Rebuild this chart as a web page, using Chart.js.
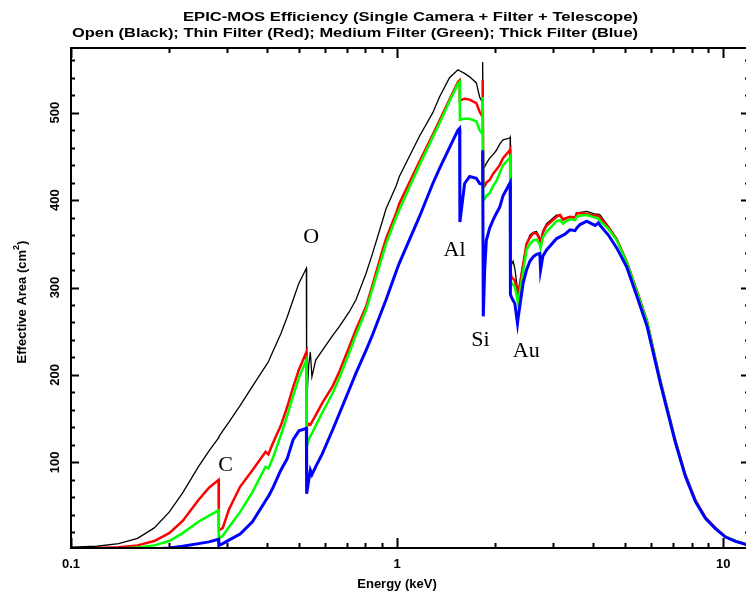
<!DOCTYPE html>
<html lang="en">
<head>
<meta charset="UTF-8">
<title>EPIC-MOS Efficiency</title>
<script src="https://cdn.jsdelivr.net/npm/chart.js"></script>
<style>
    * { margin: 0; padding: 0; box-sizing: border-box; }
    body { background: #fff; width: 746px; height: 597px; overflow: hidden; }
    #wrap { width: 752px; height: 597px; }
</style>
</head>
<body>
<div id="wrap"><canvas id="effArea" width="752" height="597"></canvas></div>
<script>
// photon energy grid (keV), shared by all four curves
const energy = [
    0.100, 0.120, 0.140, 0.160, 0.180, 0.200, 0.220, 0.246, 0.265, 0.2835,
    0.2840, 0.292, 0.305, 0.330, 0.360, 0.395, 0.403, 0.415, 0.440, 0.460,
    0.480, 0.500, 0.527, 0.528, 0.536, 0.542, 0.548, 0.563, 0.590, 0.634,
    0.664, 0.713, 0.748, 0.803, 0.841, 0.903, 0.925, 0.993, 1.016, 1.171,
    1.287, 1.349, 1.448, 1.537, 1.555, 1.558, 1.611, 1.669, 1.750, 1.791,
    1.825, 1.830, 1.838, 1.856, 1.878, 1.923, 1.969, 2.017, 2.064, 2.113,
    2.215, 2.222, 2.226, 2.243, 2.269, 2.296, 2.340, 2.350, 2.435, 2.494,
    2.554, 2.614, 2.677, 2.740, 2.754, 2.800, 2.874, 3.085, 3.158, 3.230,
    3.272, 3.390, 3.513, 3.554, 3.639, 3.815, 4.046, 4.140, 4.194, 4.446,
    4.719, 5.066, 5.438, 5.838, 6.414, 6.645, 7.133, 7.656, 8.220, 8.822,
    9.470, 10.16, 10.91, 12.00
];

// effective area (cm2) per filter
const openArea = [
    3, 4, 7, 13, 25, 43, 65, 95, 113, 128,
    129, 136, 146, 165, 187, 210, 215, 226, 247, 266,
    286, 305, 322, 168, 212, 226, 198, 217, 228, 245,
    255, 272, 286, 316, 339, 377, 390, 416, 427, 473,
    500, 518, 540, 549, 548, 548, 545, 541, 534, 518,
    512, 558, 436, 438, 442, 448, 452, 457, 464, 469,
    471, 472, 324, 326, 330, 322, 298, 294, 328, 350,
    360, 363, 364, 357, 352, 365, 373, 383, 382, 377,
    378, 381, 379, 385, 386, 387, 384, 384, 383, 370,
    356, 330, 297, 263, 194, 171, 125, 86, 57, 37,
    25, 15, 10, 5
];
const thinArea = [
    1.5, 2, 3, 5, 10, 19, 33, 57, 71, 80,
    22, 25, 46, 72, 91, 112, 109, 121, 142, 163,
    186, 206, 226, 141, 144, 143, 146, 154, 168, 187,
    203, 232, 252, 278, 303, 343, 356, 385, 396, 444,
    475, 491, 515, 535, 537, 514, 516, 515, 511, 501,
    496, 537, 415, 416, 420, 423, 430, 435, 440, 448,
    457, 458, 318, 312, 310, 308, 294, 291, 326, 350,
    357, 362, 362, 355, 350, 363, 371, 381, 383, 378,
    379, 381, 380, 385, 385, 384, 382, 382, 380, 369,
    355, 329, 296, 262, 194, 171, 125, 86, 57, 37,
    25, 15, 10, 5
];
const mediumArea = [
    1, 1, 1.5, 2.5, 5, 10, 19, 32, 39, 45,
    13, 16, 26, 43, 66, 95, 93, 104, 131, 153,
    176, 197, 217, 118, 126, 130, 133, 142, 157, 179,
    196, 225, 246, 274, 299, 337, 350, 380, 389, 440,
    472, 488, 513, 533, 535, 492, 493, 493, 490, 480,
    476, 518, 400, 401, 405, 408, 416, 422, 431, 440,
    448, 449, 310, 305, 303, 301, 286, 282, 318, 343,
    350, 354, 355, 349, 345, 357, 364, 376, 377, 373,
    375, 378, 377, 381, 382, 383, 380, 379, 376, 367,
    354, 328, 295, 261, 193, 170, 124, 85, 56, 36,
    24, 15, 10, 5
];
const thickArea = [
    0.5, 0.5, 0.5, 0.8, 1, 2, 4, 7, 9, 12,
    5, 7, 11, 18, 32, 56, 61, 70, 91, 104,
    126, 136, 139, 64, 80, 91, 86, 95, 110, 137,
    155, 183, 202, 228, 246, 276, 286, 318, 328, 381,
    419, 436, 460, 480, 482, 375, 419, 427, 425, 419,
    418, 457, 267, 320, 354, 368, 377, 385, 392, 405,
    419, 420, 292, 289, 285, 282, 259, 265, 305, 320,
    330, 335, 338, 339, 320, 336, 343, 356, 358, 360,
    361, 366, 365, 368, 372, 376, 371, 374, 371, 360,
    345, 323, 290, 256, 191, 168, 123, 84, 55, 36,
    24, 14.5, 9.5, 5
];

const xTickLabels = ['0.1', '1', '10'];
const yTickLabels = [100, 200, 300, 400, 500];

// absorption edges marked on the plot
const edgeNames = ['C', 'O', 'Al', 'Si', 'Au'];
const edgeLabelE = [0.298, 0.545, 1.50, 1.80, 2.49];
const edgeLabelA = [97, 358, 343, 240, 227];

const sansBold = 'bold 13px "Liberation Sans", Arial, sans-serif';

function toPoints(vals) {
    return energy.map((e, i) => ({ x: e, y: vals[i] }));
}

// squeeze/stretch a string to a given width
function fitText(ctx, text, x, y, w) {
    const m = ctx.measureText(text).width;
    ctx.save();
    ctx.translate(x, y);
    ctx.scale(w / m, 1);
    ctx.textAlign = 'left';
    ctx.fillText(text, 0, 0);
    ctx.restore();
}

// PGPLOT-style box: inward ticks, rotated y labels, edge markers
const boxPlugin = {
    id: 'box',
    afterDraw(chart) {
        const { ctx, chartArea: a, scales: { x, y } } = chart;
        ctx.save();
        ctx.strokeStyle = '#000';
        ctx.fillStyle = '#000';
        ctx.lineWidth = 2;
        ctx.strokeRect(a.left, a.top, a.right - a.left, a.bottom - a.top);

        ctx.beginPath();
        [0.1, 1, 10].forEach(d => {
            for (let k = 1; k <= 9; k++) {
                const v = d * k;
                if (v > x.max) break;
                const px = Math.round(x.getPixelForValue(v)) + 0.5;
                const len = k === 1 ? 10 : 5;
                ctx.moveTo(px, a.bottom); ctx.lineTo(px, a.bottom - len);
                ctx.moveTo(px, a.top); ctx.lineTo(px, a.top + len);
            }
        });
        for (let v = 20; v < y.max; v += 20) {
            const py = Math.round(y.getPixelForValue(v)) + 0.5;
            const len = v % 100 === 0 ? 8 : 4;
            ctx.moveTo(a.left, py); ctx.lineTo(a.left + len, py);
            ctx.moveTo(a.right, py); ctx.lineTo(a.right - len, py);
        }
        ctx.stroke();

        ctx.font = sansBold;
        ctx.textAlign = 'center';
        ctx.textBaseline = 'middle';
        xTickLabels.forEach(t => {
            ctx.fillText(t, x.getPixelForValue(parseFloat(t)), 564);
        });
        yTickLabels.forEach(v => {
            ctx.save();
            ctx.translate(55, y.getPixelForValue(v));
            ctx.rotate(-Math.PI / 2);
            ctx.fillText(String(v), 0, 0);
            ctx.restore();
        });
        ctx.fillText('Energy (keV)', 397, 584);

        // y title with superscript
        ctx.save();
        ctx.translate(22, 302);
        ctx.rotate(-Math.PI / 2);
        const head = 'Effective Area (cm', tail = ')';
        const supFont = 'bold 9px "Liberation Sans", Arial, sans-serif';
        const wHead = ctx.measureText(head).width;
        const wTail = ctx.measureText(tail).width;
        ctx.font = supFont;
        const wSup = ctx.measureText('2').width;
        let sx = -(wHead + wSup + wTail) / 2;
        ctx.textAlign = 'left';
        ctx.font = sansBold;
        ctx.fillText(head, sx, 0);
        ctx.font = supFont;
        ctx.fillText('2', sx + wHead, -5);
        ctx.font = sansBold;
        ctx.fillText(tail, sx + wHead + wSup, 0);
        ctx.restore();

        // two title lines
        ctx.font = 'bold 12px "Liberation Sans", Arial, sans-serif';
        ctx.textBaseline = 'middle';
        fitText(ctx, 'EPIC-MOS Efficiency (Single Camera + Filter + Telescope)', 183, 18, 455);
        fitText(ctx, 'Open (Black); Thin Filter (Red); Medium Filter (Green); Thick Filter (Blue)', 72, 34, 566);

        // element edge markers
        ctx.font = '22px "Liberation Serif", "Times New Roman", serif';
        ctx.textAlign = 'center';
        edgeNames.forEach((n, i) => {
            ctx.fillText(n, x.getPixelForValue(edgeLabelE[i]), y.getPixelForValue(edgeLabelA[i]));
        });
        ctx.restore();
    }
};

new Chart(document.getElementById('effArea'), {
    type: 'line',
    data: {
        datasets: [
            { label: 'Thick', data: toPoints(thickArea), borderColor: '#0000ff', borderWidth: 3, order: 1 },
            { label: 'Medium', data: toPoints(mediumArea), borderColor: '#00ff00', borderWidth: 2.5, order: 2 },
            { label: 'Thin', data: toPoints(thinArea), borderColor: '#ff0000', borderWidth: 2.5, order: 3 },
            { label: 'Open', data: toPoints(openArea), borderColor: '#000000', borderWidth: 1.3, order: 4 }
        ]
    },
    options: {
        responsive: false,
        animation: false,
        elements: { point: { radius: 0 }, line: { tension: 0 } },
        layout: { padding: { left: 71, top: 48, right: 3, bottom: 49 } },
        plugins: { legend: { display: false }, tooltip: { enabled: false } },
        scales: {
            x: { type: 'logarithmic', min: 0.1, max: 12, display: false },
            y: { type: 'linear', min: 2, max: 574, display: false }
        }
    },
    plugins: [boxPlugin]
});
</script>
</body>
</html>
